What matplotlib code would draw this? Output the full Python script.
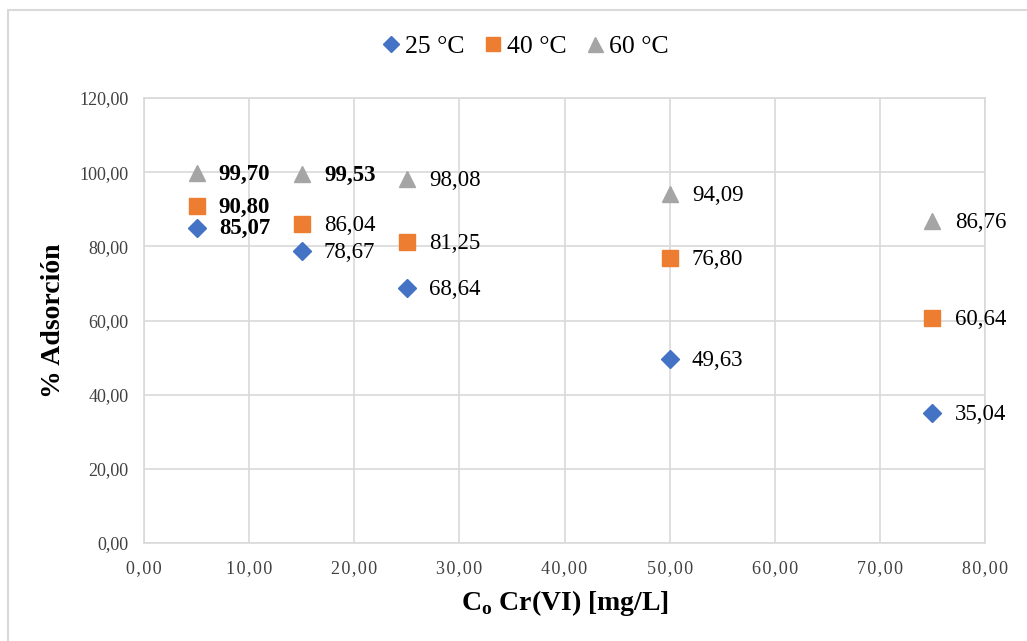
import numpy as np
import matplotlib.pyplot as plt
import matplotlib.patches as mpatches
from matplotlib.ticker import FuncFormatter

plt.rcParams['font.family'] = ['Liberation Serif', 'DejaVu Serif']

# initial Cr(VI) concentration [mg/L]
conc = [5, 15, 25, 50, 75]
ads_25 = [85.07, 78.67, 68.64, 49.63, 35.04]
ads_40 = [90.80, 86.04, 81.25, 76.80, 60.64]
ads_60 = [99.70, 99.53, 98.08, 94.09, 86.76]
series_names = ['25 °C', '40 °C', '60 °C']
# labels printed in bold in the original
bold_labels = {(0, 0), (1, 0), (2, 0), (2, 1)}


def comma(v, pos=None):
    return f'{v:.2f}'.replace('.', ',')


def spaced(v, pos=None):
    # excel stretched the x tick labels a bit
    return '\u200a'.join(comma(v))


fig = plt.figure(figsize=(10.27, 6.41), dpi=100)
ax = fig.add_axes([144 / 1027, 1 - 543 / 641, (985 - 144) / 1027, (543 - 98) / 641])

# light frame around chart area
fig.patches.append(mpatches.Rectangle((8 / 1027, -0.1), 1.2, 1 - 10 / 641 + 0.1,
                                      transform=fig.transFigure, fill=False,
                                      edgecolor='#d9d9d9', linewidth=1.5))

styles = [('D', '#4472C4', 9.5), ('s', '#ED7D31', 11), ('^', '#A5A5A5', 12)]
all_series = [ads_25, ads_40, ads_60]
for i, (vals, (mk, col, ms)) in enumerate(zip(all_series, styles)):
    ax.plot(conc, vals, linestyle='none', marker=mk, color=col, markersize=ms,
            label=series_names[i], clip_on=False, zorder=3)
    for j, (x, y) in enumerate(zip(conc, vals)):
        ax.annotate(comma(y), (x, y), xytext=(16, -1), textcoords='offset points',
                    va='center', ha='left', fontsize=16.5,
                    fontweight='bold' if (i, j) in bold_labels else 'normal',
                    annotation_clip=False)

ax.set_xlim(0, 80)
ax.set_ylim(0, 120)
ax.set_xticks(np.arange(0, 81, 10))
ax.set_yticks(np.arange(0, 121, 20))
ax.xaxis.set_major_formatter(FuncFormatter(spaced))
ax.yaxis.set_major_formatter(FuncFormatter(comma))
ax.tick_params(length=0, labelsize=13, colors='#404040')
ax.tick_params(axis='x', pad=12, labelsize=13)
ax.tick_params(axis='y', pad=11)
ax.grid(True, color='#d9d9d9', linewidth=1.2)
ax.set_axisbelow(True)
for s in ax.spines.values():
    s.set_color('#d9d9d9')
    s.set_linewidth(1.2)

ax.set_xlabel(r'C$_\mathregular{o}$ Cr(VI) [mg/L]', fontsize=20, fontweight='bold', labelpad=8)
ax.set_ylabel('% Adsorción', fontsize=20, fontweight='bold', labelpad=10)

fig.legend(loc='center', bbox_to_anchor=(0.51, 1 - 47 / 641), ncol=3, frameon=False,
           fontsize=18.5, handletextpad=0.05, columnspacing=0.6, handlelength=1.0,
           markerscale=0.9)

fig.savefig('out.png', dpi=100)
